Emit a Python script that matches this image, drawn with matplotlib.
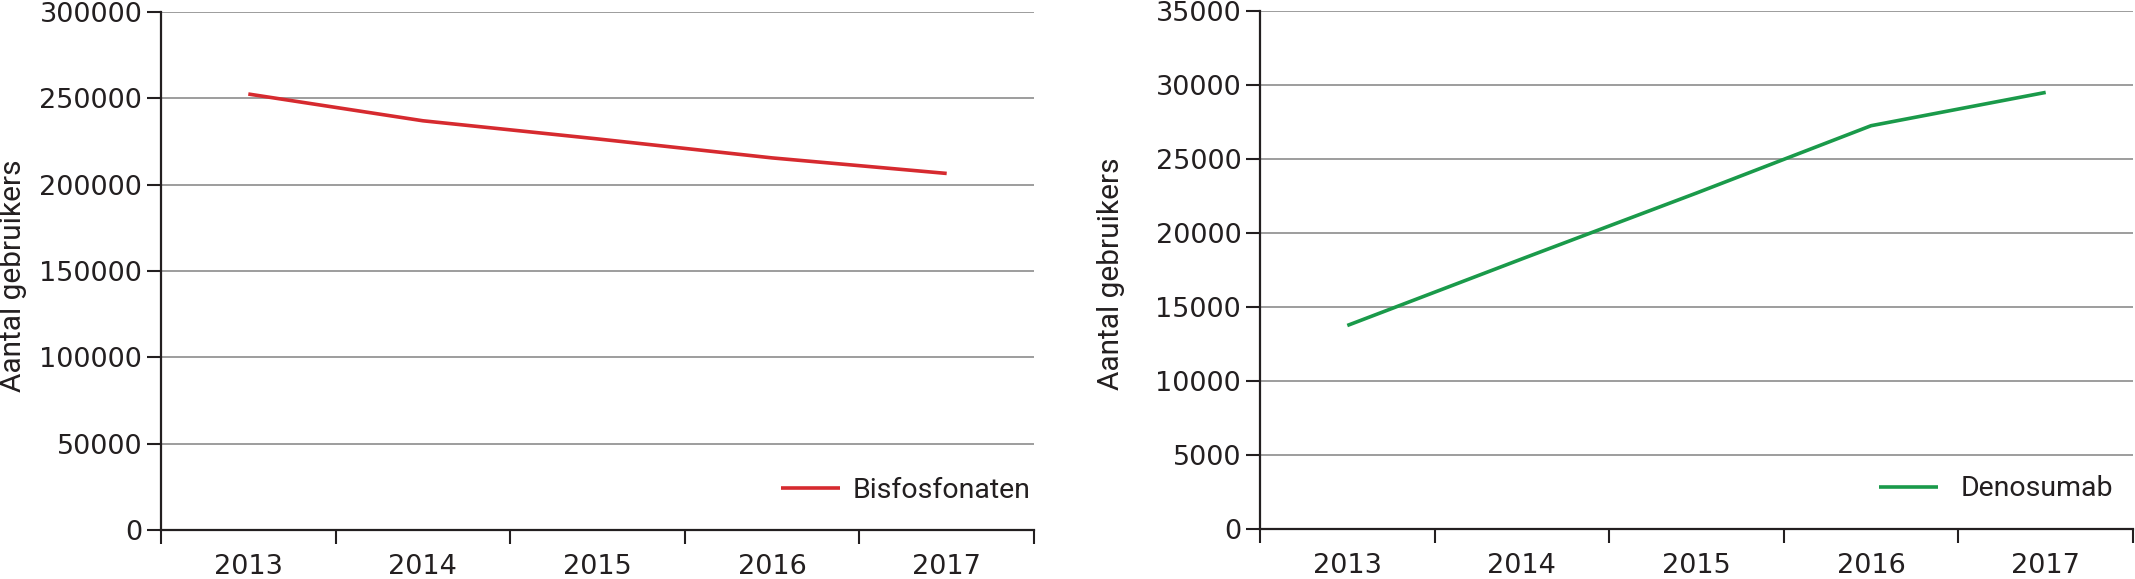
import matplotlib
matplotlib.use("Agg")
import matplotlib.pyplot as plt
from matplotlib.ticker import FixedLocator, NullFormatter, FixedFormatter

plt.rcParams['font.family'] = ['Roboto', 'DejaVu Sans']

years = ["2013", "2014", "2015", "2016", "2017"]
bisfosfonaten = [252500, 237000, 226500, 215500, 206500]
denosumab = [13750, 18250, 22700, 27250, 29500]

left_ticks = [0, 50000, 100000, 150000, 200000, 250000, 300000]
right_ticks = [0, 5000, 10000, 15000, 20000, 25000, 30000, 35000]

W, H = 2135, 579
fig = plt.figure(figsize=(W / 100, H / 100), dpi=100)

dark = '#231f20'
grid = '#9d9d9d'
fs = 20.5
ylab_fs = 21.5
tick_fs = 19.5
tick_family = ['DejaVu Sans']


def make_ax(rect, values, ticks, color, label, legend_anchor, textpad):
    ax = fig.add_axes(rect)
    x = list(range(len(years)))
    ax.plot(x, values, color=color, lw=2.6, solid_capstyle='butt', label=label, zorder=3)
    ax.set_xlim(-0.5, len(years) - 0.5)
    ax.set_ylim(ticks[0], ticks[-1])
    ax.yaxis.set_major_locator(FixedLocator(ticks))
    ax.set_yticklabels([str(t) for t in ticks])
    for t in ticks[1:]:
        ax.axhline(t, color=grid, lw=1.4, zorder=1)
    ax.xaxis.set_major_locator(FixedLocator([i - 0.5 for i in range(len(years) + 1)]))
    ax.xaxis.set_major_formatter(NullFormatter())
    ax.xaxis.set_minor_locator(FixedLocator(x))
    ax.xaxis.set_minor_formatter(FixedFormatter(years))
    ax.tick_params(axis='x', which='major', length=10, width=1.5, color=dark, direction='out')
    ax.tick_params(axis='x', which='minor', length=0, pad=17, labelsize=tick_fs, labelcolor=dark)
    ax.tick_params(axis='y', which='major', length=10, width=1.5, color=dark, pad=3.5,
                   labelsize=tick_fs, labelcolor=dark)
    for lab in ax.get_yticklabels() + ax.get_xticklabels(minor=True):
        lab.set_fontfamily(tick_family)
    for s in ['top', 'right']:
        ax.spines[s].set_visible(False)
    for s in ['left', 'bottom']:
        ax.spines[s].set_color(dark)
        ax.spines[s].set_linewidth(1.6)
        ax.spines[s].set_zorder(4)
    ax.spines['left'].set_bounds(ticks[0], ticks[-1])
    leg = ax.legend(loc='center right', bbox_to_anchor=legend_anchor, frameon=False,
                    fontsize=fs, handlelength=2.05, handletextpad=textpad, borderpad=0,
                    borderaxespad=0)
    for t in leg.get_texts():
        t.set_color(dark)
    return ax


axl = make_ax([161 / W, (H - 530) / H, 873 / W, 518 / H], bisfosfonaten, left_ticks,
              '#d62a2f', 'Bisfosfonaten', (0.996, 40 / 518), 0.45)
axr = make_ax([1260 / W, (H - 529) / H, 873 / W, 518 / H], denosumab, right_ticks,
              '#1a9a4a', 'Denosumab', (0.977, 40 / 518), 0.8)

fig.text(13 / W, 1 - 276 / H, 'Aantal gebruikers', rotation=90, ha='center', va='center',
         fontsize=ylab_fs, color=dark)
fig.text(1111 / W, 1 - 274 / H, 'Aantal gebruikers', rotation=90, ha='center', va='center',
         fontsize=ylab_fs, color=dark)

fig.savefig('out.png', dpi=100)
